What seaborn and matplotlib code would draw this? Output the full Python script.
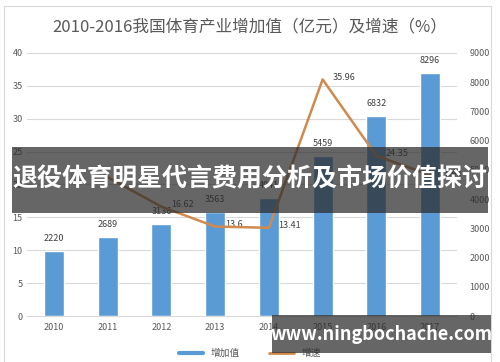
import numpy as np
import pandas as pd
import matplotlib
matplotlib.use("Agg")
import matplotlib.pyplot as plt
from matplotlib.patches import Rectangle
from matplotlib.lines import Line2D
import seaborn as sns

years = ["2010", "2011", "2012", "2013", "2014", "2015", "2016", "2017"]
value = [2220, 2689, 3136, 3563, 4041, 5459, 6832, 8296]   # 增加值（亿元）
growth_years = ["2011", "2012", "2013", "2014", "2015", "2016", "2017"]
growth = [21.1, 16.62, 13.6, 13.41, 35.96, 24.35, 21.43]   # 增速（%）
growth_labels = ["", "16.62", "13.6", "13.41", "35.96", "24.35", "21.43"]

title = "2010-2016我国体育产业增加值（亿元）及增速（%）"
banner = "退役体育明星代言费用分析及市场价值探讨"
watermark = "www.ningbochache.com"

sns.set_style("white")
plt.rcParams["font.family"] = ["Noto Sans CJK SC", "DejaVu Sans"]

bar_color = "#5B9BD5"
line_color = "#D08A4E"
text_gray = "#595959"

df_bar = pd.DataFrame({"year": years, "value": value})
df_line = pd.DataFrame({"year": growth_years, "growth": growth})
df_line["pos"] = [years.index(y) for y in growth_years]

fig = plt.figure(figsize=(5, 3.62), dpi=100)
ax = fig.add_axes([0.054, 0.127, 0.86, 0.727])

# bars on the primary axes (right-hand scale), line on the twin (left-hand scale)
sns.barplot(data=df_bar, x="year", y="value", order=years, color=bar_color,
            width=0.37, saturation=1, ax=ax)
ax.set_ylim(0, 9000)
ax.set_yticks(np.arange(0, 9001, 1000))
ax.set_xlabel("")
ax.set_ylabel("")
ax.set_xlim(-0.5, 7.5)

for i, v in enumerate(value):
    ax.text(i, v + 280, str(v), ha="center", va="bottom", fontsize=6.5, color="#404040")

ax2 = ax.twinx()
sns.lineplot(data=df_line, x="pos", y="growth", color=line_color, linewidth=1.8,
             ax=ax2, zorder=5)
ax2.set_ylim(0, 40)
ax2.set_yticks(np.arange(0, 41, 5))
ax2.set_xlim(-0.5, 7.5)
ax2.set_xlabel("")
ax2.set_ylabel("")

# swap sides after twinx
ax.yaxis.tick_right()
ax.yaxis.set_label_position("right")
ax2.yaxis.tick_left()
ax2.yaxis.set_label_position("left")

for p, g, lab in zip(df_line["pos"], growth, growth_labels):
    if lab:
        ax2.text(p + 0.18, g + 0.3, lab, ha="left", va="center", fontsize=6.5, color="#404040")

for a in (ax, ax2):
    for s in a.spines.values():
        s.set_visible(False)
    a.tick_params(length=0, labelsize=6.5, labelcolor=text_gray)
ax.tick_params(axis="y", pad=9)
ax2.tick_params(axis="y", pad=3)
ax.tick_params(axis="x", pad=5)

ax.spines["bottom"].set_visible(True)
ax.spines["bottom"].set_color("#D9D9D9")
ax.set_zorder(1)
ax2.set_zorder(2)
ax2.patch.set_visible(False)

# horizontal grid behind bars, on the left-hand scale
for yv in np.arange(5, 41, 5):
    ax.axhline(yv / 40 * 9000, color="#D9D9D9", linewidth=0.8, zorder=0)

fig.text(0.5, 0.925, title, ha="center", va="center", fontsize=12, color=text_gray)

# legend, partly covered at the bottom edge
handles = [Line2D([0], [0], color=bar_color, linewidth=3),
           Line2D([0], [0], color=line_color, linewidth=2)]
fig.legend(handles, ["增加值", "增速"], loc="center", bbox_to_anchor=(0.5, 0.025),
           ncol=2, frameon=False, fontsize=7, labelcolor=text_gray, handlelength=2.5,
           columnspacing=3)

# chart frame
fig.patches.append(Rectangle((0.008, -0.05), 0.974, 1.033, transform=fig.transFigure,
                             fill=False, edgecolor="#D9D9D9", linewidth=0.8))

# overlay banner
fig.patches.append(Rectangle((0.024, 0.412), 0.952, 0.182, transform=fig.transFigure,
                             facecolor="#2b2b2b", alpha=0.72, edgecolor="none", zorder=10))
fig.text(0.5, 0.503, banner, ha="center", va="center", fontsize=18, fontweight="bold",
         color="white", zorder=11)

# watermark box
fig.patches.append(Rectangle((0.544, 0.025), 0.438, 0.105, transform=fig.transFigure,
                             facecolor="#2b2b2b", alpha=0.72, edgecolor="none", zorder=10))
fig.text(0.763, 0.077, watermark, ha="center", va="center", fontsize=13, fontweight="bold",
         color="white", zorder=11)

fig.savefig("out.png", dpi=100)
